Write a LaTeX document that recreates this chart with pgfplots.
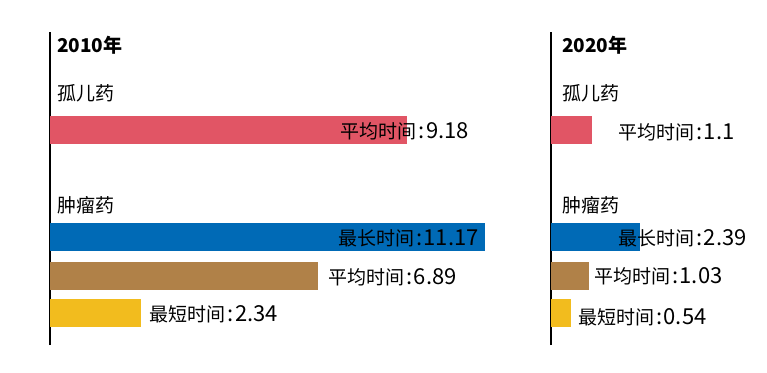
\documentclass[border=0pt]{standalone}
\usepackage{pgfplots}
\pgfplotsset{compat=1.18}
\usepackage{fontspec}
\setmainfont{Noto Sans CJK SC}
\definecolor{cred}{RGB}{225,85,101}
\definecolor{cblue}{RGB}{0,106,182}
\definecolor{cbrown}{RGB}{176,129,72}
\definecolor{cyellow}{RGB}{242,188,30}
\newcommand{\lab}[2]{#1{\fontsize{22}{24}\selectfont\kern2pt:\kern1.5pt#2}}
\tikzset{lbl/.style={anchor=west, inner sep=0pt, font=\fontsize{19}{22}\selectfont},
         ttl/.style={anchor=west, inner sep=0pt, font=\bfseries\fontsize{19}{22}\selectfont}}
\begin{document}
\begin{tikzpicture}
\path[use as bounding box] (0pt,0pt) rectangle (767pt,372pt);
\pgfplotsset{panel/.style={
  scale only axis, axis x line=none, axis y line=left,
  y axis line style={-, line width=1.8pt, black},
  ytick=\empty, xtick=\empty, xmin=0, ymin=0, ymax=313, height=313pt,
  clip=false,
  }}
% left panel 2010
\begin{axis}[panel, at={(50pt,27pt)}, anchor=south west, xmax=12, width=466.8pt]
\addplot[xbar, bar shift=0pt, bar width=28pt, fill=cred, draw=none] coordinates {(9.18,215)};
\addplot[xbar, bar shift=0pt, bar width=28pt, fill=cblue, draw=none] coordinates {(11.17,108)};
\addplot[xbar, bar shift=0pt, bar width=28pt, fill=cbrown, draw=none] coordinates {(6.89,69)};
\addplot[xbar, bar shift=0pt, bar width=28pt, fill=cyellow, draw=none] coordinates {(2.34,32)};
\node[ttl] at (axis cs:0.18,300) {2010年};
\node[lbl] at (axis cs:0.18,252) {孤儿药};
\node[lbl] at (axis cs:0.18,140) {肿瘤药};
\node[lbl] at (axis cs:7.46,214) {\lab{平均时间}{9.18}};
\node[lbl] at (axis cs:7.40,107) {\lab{最长时间}{11.17}};
\node[lbl] at (axis cs:7.15,68) {\lab{平均时间}{6.89}};
\node[lbl] at (axis cs:2.55,31) {\lab{最短时间}{2.34}};
\end{axis}
% right panel 2020
\begin{axis}[panel, at={(551pt,27pt)}, anchor=south west, xmax=5, width=186.5pt]
\addplot[xbar, bar shift=0pt, bar width=28pt, fill=cred, draw=none] coordinates {(1.1,215)};
\addplot[xbar, bar shift=0pt, bar width=28pt, fill=cblue, draw=none] coordinates {(2.39,108)};
\addplot[xbar, bar shift=0pt, bar width=28pt, fill=cbrown, draw=none] coordinates {(1.03,69)};
\addplot[xbar, bar shift=0pt, bar width=28pt, fill=cyellow, draw=none] coordinates {(0.54,32)};
\node[ttl] at (axis cs:0.29,300) {2020年};
\node[lbl] at (axis cs:0.29,252) {孤儿药};
\node[lbl] at (axis cs:0.29,140) {肿瘤药};
\node[lbl] at (axis cs:1.80,213) {\lab{平均时间}{1.1}};
\node[lbl] at (axis cs:1.80,107) {\lab{最长时间}{2.39}};
\node[lbl] at (axis cs:1.15,69) {\lab{平均时间}{1.03}};
\node[lbl] at (axis cs:0.72,28) {\lab{最短时间}{0.54}};
\end{axis}
\end{tikzpicture}
\end{document}
